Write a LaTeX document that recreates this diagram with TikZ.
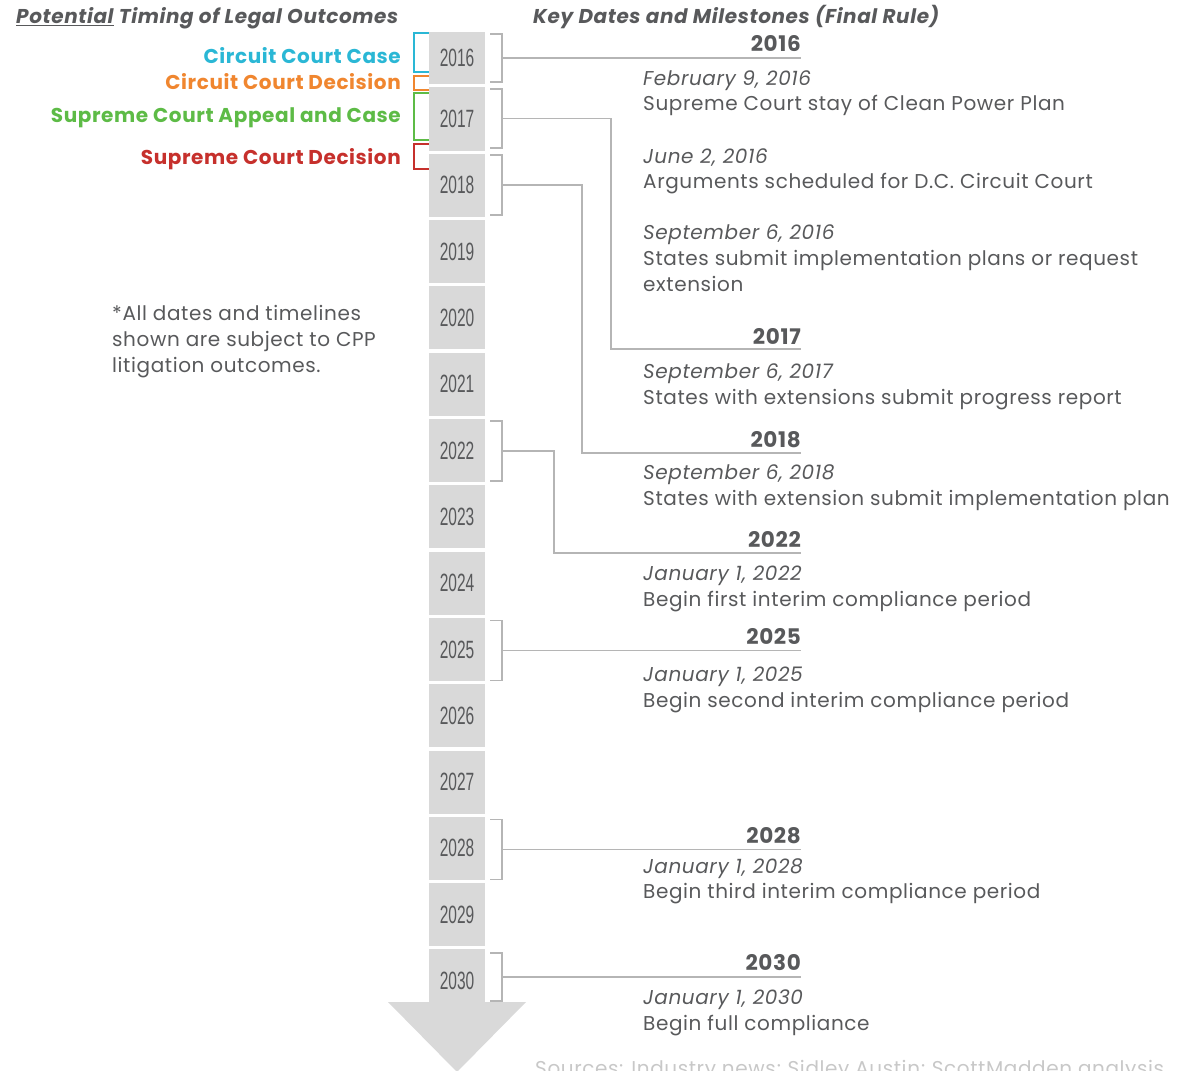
\documentclass[tikz,border=0pt]{standalone}
\usepackage{fontspec}
\setmainfont{Poppins}[LetterSpace=3]
\newfontfamily\condfont[FakeStretch=0.62]{Liberation Sans}
\definecolor{txt}{HTML}{58595B}
\definecolor{boxgray}{HTML}{D9D9D9}
\definecolor{linegray}{HTML}{B5B5B5}
\definecolor{ccase}{HTML}{2AB7D5}
\definecolor{cdec}{HTML}{F0862F}
\definecolor{sapp}{HTML}{5DBB46}
\definecolor{sdec}{HTML}{C6302C}
\definecolor{srcgray}{HTML}{C8C8C8}
\begin{document}
\begin{tikzpicture}[x=1pt,y=-1pt,
  yearbox/.style={fill=boxgray, minimum width=56pt, inner sep=0pt, text=txt,
    font=\condfont\fontsize{25}{25}\selectfont},
  bracket/.style={draw=linegray, line width=1.3pt},
  conn/.style={draw=linegray, line width=1.3pt},
  legbr/.style={line width=1.3pt},
  leg/.style={anchor=base east, inner sep=0pt, font=\fontsize{20}{22}\selectfont\bfseries},
  hdr/.style={anchor=base west, inner sep=0pt, text=txt, font=\fontsize{20}{22}\selectfont\bfseries\itshape},
  keyyear/.style={anchor=base east, inner sep=0pt, text=txt, font=\fontsize{21.5}{22}\selectfont\bfseries},
  datet/.style={anchor=base west, inner sep=0pt, text=txt, font=\fontsize{20}{22}\selectfont\itshape},
  desct/.style={anchor=base west, inner sep=0pt, text=txt, font=\fontsize{20}{22}\selectfont},
]
\useasboundingbox (0,0) rectangle (1193,1070);

% headers
\node[hdr] (h1) at (16,24) {\underline{Potential} Timing of Legal Outcomes};
\node[hdr] (h2) at (533,24) {Key Dates and Milestones (Final Rule)};

% legend brackets (drawn behind the boxes)
\draw[legbr, ccase] (430,33) -- (414,33) -- (414,72) -- (430,72);
\draw[legbr, cdec] (430,76) -- (414,76) -- (414,90) -- (430,90);
\draw[legbr, sapp] (430,93) -- (414,93) -- (414,140) -- (430,140);
\draw[legbr, sdec] (430,144) -- (414,144) -- (414,169) -- (430,169);

\node[leg, text=ccase] (l1) at (401,64) {Circuit Court Case};
\node[leg, text=cdec] (l2) at (401,90) {Circuit Court Decision};
\node[leg, text=sapp] (l3) at (401,123) {Supreme Court Appeal and Case};
\node[leg, text=sdec] (l4) at (401,164) {Supreme Court Decision};

% timeline column
\node[yearbox, minimum height=52pt] (y2016) at (457,58) {2016};
\foreach \yr [count=\i from 0] in {2017,2018,2019,2020,2021,2022,2023,2024,2025,2026,2027,2028,2029,2030}
  \node[yearbox, minimum height=63pt] (y\yr) at (457,{119+\i*66.3}) {\yr};
\fill[boxgray] (388,1002) -- (526,1002) -- (457,1072) -- cycle;

% note
\node[desct] (note) at (112,320) {*All dates and timelines};
\node[desct] (note2) at (112,346) {shown are subject to CPP};
\node[desct] (note3) at (112,372) {litigation outcomes.};

% right brackets
\foreach \yr/\c/\h in {2016/58/24, 2017/118.5/29.5, 2018/185/30, 2022/451/30, 2025/650.5/30, 2028/849.5/30, 2030/977/24}{
  \draw[bracket] (490,\c-\h) -- (502,\c-\h) -- (502,\c+\h) -- (490,\c+\h);
  \coordinate (b\yr) at (502,\c);
}

% year labels on the right
\node[keyyear] (k2016) at (801,52) {2016};
\node[keyyear] (k2017) at (801,344) {2017};
\node[keyyear] (k2018) at (801,447) {2018};
\node[keyyear] (k2022) at (801,547) {2022};
\node[keyyear] (k2025) at (801,644) {2025};
\node[keyyear] (k2028) at (801,843) {2028};
\node[keyyear] (k2030) at (801,970) {2030};

\coordinate (e2016) at (801,58);
\coordinate (e2017) at (801,349);
\coordinate (e2018) at (801,453);
\coordinate (e2022) at (801,553);
\coordinate (e2025) at (801,650.5);
\coordinate (e2028) at (801,849.5);
\coordinate (e2030) at (801,977);
\coordinate (v2017) at (611,118.5);
\coordinate (v2018) at (582,185);
\coordinate (v2022) at (554,451);

% connectors
\draw[conn] (b2016) -- (e2016);
\draw[conn] (b2017) -- (v2017) |- (e2017);
\draw[conn] (b2018) -- (v2018) |- (e2018);
\draw[conn] (b2022) -- (v2022) |- (e2022);
\draw[conn] (b2025) -- (e2025);
\draw[conn] (b2028) -- (e2028);
\draw[conn] (b2030) -- (e2030);

% milestones
\node[datet] (d1) at (643,86) {February 9, 2016};
\node[desct] (t1) at (643,111) {Supreme Court stay of Clean Power Plan};
\node[datet] (d2) at (643,163) {June 2, 2016};
\node[desct] (t2) at (643,188) {Arguments scheduled for D.C. Circuit Court};
\node[datet] (d3) at (643,239) {September 6, 2016};
\node[desct] (t3) at (643,265) {States submit implementation plans or request};
\node[desct] (t3b) at (643,291) {extension};
\node[datet] (d4) at (643,378) {September 6, 2017};
\node[desct] (t4) at (643,404) {States with extensions submit progress report};
\node[datet] (d5) at (643,479) {September 6, 2018};
\node[desct] (t5) at (643,505) {States with extension submit implementation plan};
\node[datet] (d6) at (643,580) {January 1, 2022};
\node[desct] (t6) at (643,606) {Begin first interim compliance period};
\node[datet] (d7) at (643,681) {January 1, 2025};
\node[desct] (t7) at (643,707) {Begin second interim compliance period};
\node[datet] (d8) at (643,873) {January 1, 2028};
\node[desct] (t8) at (643,898) {Begin third interim compliance period};
\node[datet] (d9) at (643,1004) {January 1, 2030};
\node[desct] (t9) at (643,1030) {Begin full compliance};

\node[desct, text=srcgray] (src) at (535,1075) {Sources: Industry news; Sidley Austin; ScottMadden analysis};
\end{tikzpicture}
\end{document}
